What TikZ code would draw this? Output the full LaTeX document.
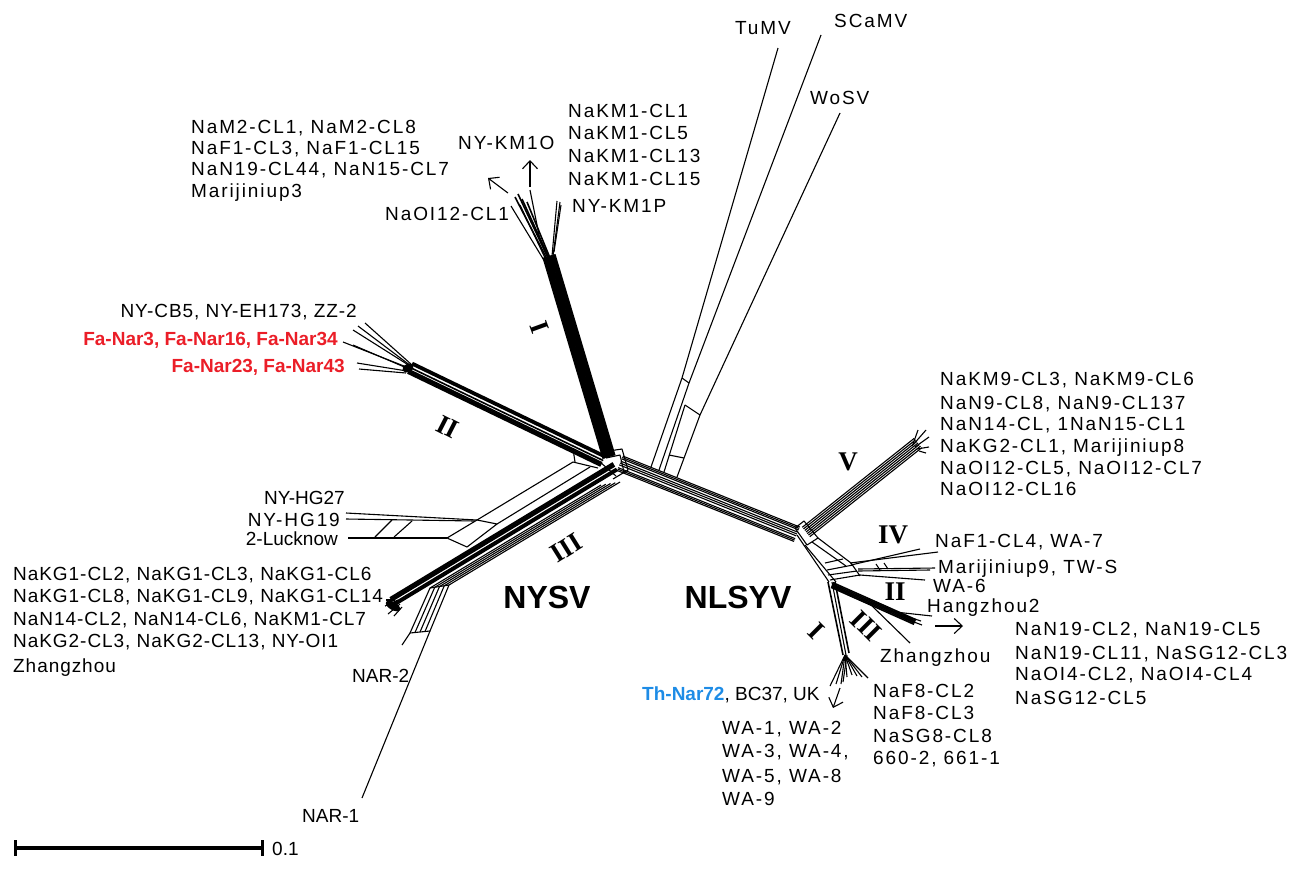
\documentclass[tikz,border=0pt]{standalone}
\usepackage{fontspec}
\setmainfont{Liberation Sans}
\newfontfamily\spc[LetterSpace=10]{Liberation Sans}
\newfontfamily\spm[LetterSpace=5]{Liberation Sans}
\newfontfamily\rmn{Liberation Serif}
\usetikzlibrary{calc,arrows.meta}
\definecolor{fared}{RGB}{235,30,40}
\definecolor{thblue}{RGB}{30,140,230}
\newcommand{\bnd}[4][ln]{\foreach \o in {#4}{\draw[#1] ($#2!\o pt!90:#3$) -- ($#3!\o pt!-90:#2$);}}
\begin{document}
\begin{tikzpicture}[x=1pt,y=-1pt,
  ln/.style={line width=1.1pt,line join=round},
  thk/.style={line width=1.6pt,line join=round},
  lab/.style={font=\spc\fontsize{19}{22}\selectfont,inner sep=0pt,anchor=base west},
  labm/.style={font=\spm\fontsize{19}{22}\selectfont,inner sep=0pt,anchor=base west},
  labn/.style={font=\fontsize{19}{22}\selectfont,inner sep=0pt,anchor=base west},
  bred/.style={font=\bfseries\fontsize{19}{22}\selectfont,text=fared,inner sep=0pt,anchor=base east},
  rn/.style={font=\rmn\bfseries\fontsize{27}{27}\selectfont,inner sep=0pt},
  big/.style={font=\bfseries\fontsize{32}{32}\selectfont,inner sep=0pt},
  arr/.style={line width=1.1pt,-{Straight Barb[length=8pt,width=15pt]}}]
\useasboundingbox (0,0) rectangle (1303,884);

% ---------- NYSV cluster I ----------
\bnd[thk]{(609,457)}{(549,256)}{-6,-5,-4,-3,-2,-1,0,1,2,3,4,5,6}
\draw[thk] (547,259) -- (515,197);
\draw[thk] (548,258) -- (518,194);
\draw[thk] (549,258) -- (522,199);
\draw[thk] (550,258) -- (527,202);
\draw[ln] (546,260) -- (520,205);
\draw[ln] (545,262) -- (511,206);
\draw[ln] (540,240) -- (530,190);
\draw[ln] (552,256) -- (557,201);
\draw[ln] (553,256) -- (560,202);
\draw[ln] (554,252) -- (561,205);
\coordinate (kmoA) at (530,187); \coordinate (kmoB) at (530,160);
\coordinate (oiA) at (508,193); \coordinate (oiB) at (488,178);
\draw[arr] (kmoA) -- (kmoB);
\draw[arr] (oiA) -- (oiB);

% ---------- NYSV cluster II ----------
\bnd[thk]{(603,461)}{(410,368)}{-6,-4.8,-3.8,-0.5,2,3.2,4.4,5.6}
\draw[ln] (412,365) -- (365,323);
\draw[ln] (411,366) -- (358,326);
\draw[ln] (410,366) -- (353,330);
\draw[ln] (409,368) -- (343,342);
\draw[ln] (409,369) -- (353,345);
\draw[ln] (407,371) -- (357,363);
\draw[ln] (406,373) -- (359,369);
\fill[rotate around={25:(408,368)}] (408,368) ellipse (6 and 4);
\draw[ln] (573,449) -- (575,462);

% ---------- NYSV cluster III ----------
\bnd[thk]{(616,468)}{(393,603)}{-6,-4.8,-3.6,-2.4,0.5,1.7,2.9}
\fill[rotate around={-30:(393,606)}] (393,606) ellipse (8 and 4);
\draw[ln] (398,600) -- (385,606);
\draw[ln] (400,604) -- (388,614);
\draw[ln] (395,600) -- (386,600);
\draw[ln] (402,607) -- (394,616);
% NAR split
\foreach \k in {0,1,2,3,4}{
  \pgfmathsetmacro\tx{430+4.75*\k}\pgfmathsetmacro\ty{588-0.75*\k}
  \pgfmathsetmacro\bx{410+5*\k}\pgfmathsetmacro\by{633-0.5*\k}
  \draw[ln] (\tx+171,\ty-103) -- (\tx,\ty) -- (\bx,\by);}
\draw[ln] (430,588) -- (449,585);
\draw[ln] (410,633) -- (430,631);
\coordinate (nar2) at (402,645); \coordinate (nar1) at (362,798);
\draw[ln] (410,633) -- (nar2);
\draw[ln] (430,631) -- (nar1);

% ---------- NY-HG split ----------
\draw[ln] (598,468) -- (573,462) -- (477,520);
\draw[ln] (477,520) -- (497,524) -- (467,547) -- (447,538) -- cycle;
\draw[ln] (497,524) -- (590,467);
\draw[ln] (477,520) -- (346,513);
\draw[ln] (475,521) -- (346,519);
\draw[ln] (447,538) -- (348,538);
\draw[ln] (375,537) -- (392,520);
\draw[ln] (394,537) -- (412,521);

% ---------- hub ----------
\draw[ln] (602,452) -- (622,449) -- (628,470) -- (613,479);
\draw[ln] (606,458) -- (620,455) -- (624,472);
\draw[ln] (600,462) -- (616,476);

% ---------- backbone ----------
\bnd{(620,463)}{(797,534)}{-8,-6.5,-5,-2,0,2,4.5,6,7.5}

% ---------- outgroups ----------
\coordinate (tumv) at (778,48); \coordinate (scamv) at (821,35); \coordinate (wosv) at (840,113);
\draw[ln] (tumv) -- (682,378) -- (651,467);
\draw[ln] (scamv) -- (689,383) -- (659,470);
\draw[ln] (682,378) -- (689,383);
\draw[ln] (685,405) -- (664,472);
\draw[ln] (wosv) -- (700,415) -- (677,477);
\draw[ln] (685,405) -- (700,415);
\draw[ln] (669,455) -- (684,458);

% ---------- NLSYV cluster V ----------
\bnd{(806,532)}{(918,443)}{-6,-4,-2,0,2,4,6}
\draw[ln] (912,446) -- (926,430);
\draw[ln] (915,447) -- (929,437);
\draw[ln] (917,449) -- (929,447);
\draw[ln] (919,451) -- (926,453);
\draw[ln] (913,444) -- (918,430);
\draw[ln] (795,528) -- (804,521) -- (818,538) -- (807,545) -- cycle;
% lower band
\draw[ln] (797,535) -- (829,582);
\draw[ln] (805,545) -- (836,582);
\draw[ln] (818,538) -- (851,563);
\draw[ln] (812,542) -- (846,566);
\draw[ln] (825,563) -- (843,559);
\draw[ln] (827,570) -- (853,565);
\draw[ln] (828,575) -- (857,571);
\draw[ln] (830,580) -- (860,575);
\draw[ln] (851,563) -- (860,576);
% IV
\draw[ln] (850,563) -- (938,552);
\draw[ln] (851,565) -- (920,549);
\draw[ln] (858,569) -- (935,568);
\draw[ln] (858,571) -- (930,570);
\draw[ln] (876,564) -- (880,570);
\draw[ln] (884,563) -- (888,569);
\draw[ln] (860,575) -- (925,580);
% II
\bnd[thk]{(832,585)}{(915,622)}{-2.5,-1.2,0,1.2,2.5}
\draw[ln] (905,616) -- (921,621);
\draw[ln] (906,619) -- (922,625);
\draw[ln] (895,612) -- (932,616);
\coordinate (hzA) at (935,626); \coordinate (hzB) at (963,626);
\draw[arr] (hzA) -- (hzB);
% III
\draw[ln] (868,602) -- (910,643);
% I
\draw[thk] (828,582) -- (843,655);
\draw[ln] (832,582) -- (846,655);
\draw[thk] (835,582) -- (849,653);
\foreach \tx/\ty in {830/686,836/684,841/684,847/677,852/675,857/676,862/677,868/678}
  \draw[ln] (845,655) -- (\tx,\ty);
\draw[ln] (847,655) -- (843,682);
\coordinate (waA) at (840,688); \coordinate (waB) at (833,708);
\draw[arr] (waA) -- (waB);

% ---------- roman numerals ----------
\node[rn,rotate=-70] (rI1) at (540,327) {I};
\node[rn,rotate=-27] (rII1) at (448,427) {II};
\node[rn,rotate=32] (rIII1) at (566,548) {III};
\node[rn] (rV) at (848,462) {V};
\node[rn] (rIV) at (893,535) {IV};
\node[rn] (rII2) at (895,592) {II};
\node[rn,rotate=-45] (rIII2) at (866,626) {III};
\node[rn,rotate=-45] (rI2) at (816,631) {I};

\node[big] (nysv) at (547,597) {NYSV};
\node[big] (nlsyv) at (738,597) {NLSYV};

% ---------- labels ----------
\node[lab] (l1) at (191,133) {NaM2-CL1, NaM2-CL8};
\node[lab] (l2) at (191,154) {NaF1-CL3, NaF1-CL15};
\node[lab] (l3) at (191,175) {NaN19-CL44, NaN15-CL7};
\node[lab] (l4) at (191,197) {Marijiniup3};
\node[lab] (kmo) at (458,149) {NY-KM1O};
\node[lab] (oi) at (385,220) {NaOI12-CL1};
\node[lab] (k1) at (568,117) {NaKM1-CL1};
\node[lab] (k2) at (568,139) {NaKM1-CL5};
\node[lab] (k3) at (568,162) {NaKM1-CL13};
\node[lab] (k4) at (568,185) {NaKM1-CL15};
\node[lab] (k5) at (572,212) {NY-KM1P};
\node[lab] (tu) at (735,34) {TuMV};
\node[lab] (sc) at (834,27) {SCaMV};
\node[lab] (wo) at (810,104) {WoSV};
\node[labm,anchor=base east] (cb) at (357,317) {NY-CB5, NY-EH173, ZZ-2};
\node[bred] (fa1) at (338,345) {Fa-Nar3, Fa-Nar16, Fa-Nar34};
\node[bred] (fa2) at (345,372) {Fa-Nar23, Fa-Nar43};
\node[labn,anchor=base east] (hg27) at (345,504) {NY-HG27};
\node[lab,anchor=base east] (hg19) at (340,526) {NY-HG19};
\node[labn,anchor=base east] (luck) at (338,545) {2-Lucknow};
\node[labm] (g1) at (13,580) {NaKG1-CL2, NaKG1-CL3, NaKG1-CL6};
\node[labm] (g2) at (13,602) {NaKG1-CL8, NaKG1-CL9, NaKG1-CL14};
\node[labm] (g3) at (13,625) {NaN14-CL2, NaN14-CL6, NaKM1-CL7};
\node[labm] (g4) at (13,647) {NaKG2-CL3, NaKG2-CL13, NY-OI1};
\node[labm] (g5) at (13,672) {Zhangzhou};
\node[labn] (nr2) at (352,682) {NAR-2};
\node[labn] (nr1) at (302,822) {NAR-1};
\node[lab] (m1) at (940,385) {NaKM9-CL3, NaKM9-CL6};
\node[lab] (m2) at (940,409) {NaN9-CL8, NaN9-CL137};
\node[lab] (m3) at (940,430) {NaN14-CL, 1NaN15-CL1};
\node[lab] (m4) at (940,452) {NaKG2-CL1, Marijiniup8};
\node[lab] (m5) at (940,474) {NaOI12-CL5, NaOI12-CL7};
\node[lab] (m6) at (940,495) {NaOI12-CL16};
\node[lab] (f4) at (935,547) {NaF1-CL4, WA-7};
\node[lab] (mj9) at (938,573) {Marijiniup9, TW-S};
\node[lab] (wa6) at (933,592) {WA-6};
\node[lab] (hz2) at (927,612) {Hangzhou2};
\node[lab] (n1) at (1015,635) {NaN19-CL2, NaN19-CL5};
\node[lab] (n2) at (1015,659) {NaN19-CL11, NaSG12-CL3};
\node[lab] (n3) at (1015,680) {NaOI4-CL2, NaOI4-CL4};
\node[lab] (n4) at (1015,704) {NaSG12-CL5};
\node[lab] (zz) at (880,662) {Zhangzhou};
\node[lab] (f81) at (873,697) {NaF8-CL2};
\node[lab] (f82) at (873,719) {NaF8-CL3};
\node[lab] (f83) at (873,742) {NaSG8-CL8};
\node[lab] (f84) at (873,764) {660-2, 661-1};
\node[labn] (th) at (642,700) {\textcolor{thblue}{\bfseries Th-Nar72}, BC37, UK};
\node[lab] (w1) at (722,734) {WA-1, WA-2};
\node[lab] (w2) at (722,757) {WA-3, WA-4,};
\node[lab] (w3) at (722,782) {WA-5, WA-8};
\node[lab] (w4) at (722,805) {WA-9};

% ---------- scale bar ----------
\coordinate (sbA) at (15,848); \coordinate (sbB) at (262,848);
\draw[line width=4pt] (sbA) -- (sbB);
\draw[line width=3pt] (15,840) -- (15,856);
\draw[line width=3pt] (262,840) -- (262,856);
\node[labn] (sc1) at (272,855) {0.1};
\end{tikzpicture}
\end{document}
